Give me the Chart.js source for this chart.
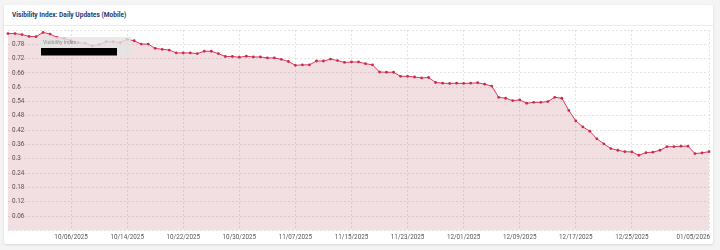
<!DOCTYPE html>
<html>
<head>
<meta charset="utf-8">
<script src="https://cdn.jsdelivr.net/npm/chart.js@4.4.1/dist/chart.umd.min.js"></script>
<style>
  html, body { margin: 0; padding: 0; background: #f4f4f4; }
  .card {
    position: absolute; left: 4px; top: 5px; width: 709px; height: 239px;
    background: #fff; border-radius: 2px; box-shadow: 0 1px 3px rgba(0,0,0,0.12);
  }
  .card h3 {
    margin: 0; height: 20px; padding-left: 8px;
    font: bold 6.6px/20px Roboto, sans-serif; color: #1f3a6b;
    border-bottom: 1px solid #ececec;
  }
  canvas { display: block; }
</style>
</head>
<body>
<div class="card">
  <h3>Visibility Index: Daily Updates (Mobile)</h3>
  <canvas id="myChart" width="709" height="218"></canvas>
</div>
<script>
// categories (one per day)
var dates = [
  '09/27/2025','09/28/2025','09/29/2025','09/30/2025',
  '10/01/2025','10/02/2025','10/03/2025','10/04/2025','10/05/2025','10/06/2025','10/07/2025','10/08/2025',
  '10/09/2025','10/10/2025','10/11/2025','10/12/2025','10/13/2025','10/14/2025','10/15/2025','10/16/2025',
  '10/17/2025','10/18/2025','10/19/2025','10/20/2025','10/21/2025','10/22/2025','10/23/2025','10/24/2025',
  '10/25/2025','10/26/2025','10/27/2025','10/28/2025','10/29/2025','10/30/2025','10/31/2025',
  '11/01/2025','11/02/2025','11/03/2025','11/04/2025','11/05/2025','11/06/2025','11/07/2025','11/08/2025',
  '11/09/2025','11/10/2025','11/11/2025','11/12/2025','11/13/2025','11/14/2025','11/15/2025','11/16/2025',
  '11/17/2025','11/18/2025','11/19/2025','11/20/2025','11/21/2025','11/22/2025','11/23/2025','11/24/2025',
  '11/25/2025','11/26/2025','11/27/2025','11/28/2025','11/29/2025','11/30/2025',
  '12/01/2025','12/02/2025','12/03/2025','12/04/2025','12/05/2025','12/06/2025','12/07/2025','12/08/2025',
  '12/09/2025','12/10/2025','12/11/2025','12/12/2025','12/13/2025','12/14/2025','12/15/2025','12/16/2025',
  '12/17/2025','12/18/2025','12/19/2025','12/20/2025','12/21/2025','12/22/2025','12/23/2025','12/24/2025',
  '12/25/2025','12/26/2025','12/27/2025','12/28/2025','12/29/2025','12/30/2025','12/31/2025',
  '01/01/2026','01/02/2026','01/03/2026','01/04/2026','01/05/2026'
];

// visibility index values
var visibility = [
  0.825, 0.825, 0.821, 0.813, 0.812, 0.830, 0.823, 0.809, 0.805, 0.795,
  0.787, 0.785, 0.773, 0.779, 0.791, 0.791, 0.787, 0.801, 0.795, 0.781,
  0.781, 0.763, 0.759, 0.756, 0.744, 0.744, 0.744, 0.741, 0.751, 0.751,
  0.741, 0.729, 0.729, 0.726, 0.730, 0.727, 0.727, 0.723, 0.723, 0.717,
  0.708, 0.692, 0.694, 0.694, 0.710, 0.710, 0.718, 0.712, 0.704, 0.706,
  0.706, 0.699, 0.694, 0.664, 0.663, 0.663, 0.646, 0.646, 0.643, 0.639,
  0.641, 0.620, 0.617, 0.616, 0.617, 0.616, 0.617, 0.619, 0.613, 0.605,
  0.558, 0.554, 0.544, 0.547, 0.533, 0.537, 0.537, 0.540, 0.558, 0.554,
  0.503, 0.459, 0.434, 0.416, 0.384, 0.363, 0.343, 0.336, 0.330, 0.329,
  0.315, 0.326, 0.328, 0.336, 0.351, 0.351, 0.353, 0.353, 0.322, 0.325,
  0.330
];

// ticks
var xTickLabels = ['10/06/2025','10/14/2025','10/22/2025','10/30/2025','11/07/2025','11/15/2025',
                   '11/23/2025','12/01/2025','12/09/2025','12/17/2025','12/25/2025','01/05/2026'];
var yTickValues = [0, 0.06, 0.12, 0.18, 0.24, 0.3, 0.36, 0.42, 0.48, 0.54, 0.6, 0.66, 0.72, 0.78, 0.84];
var seriesName = 'Visibility Index';

var lastLabel = xTickLabels[xTickLabels.length - 1];
var tickFont = { family: 'Roboto', size: 6.3 };
var gridColor = 'rgba(0,0,0,0.11)';

// legend box (name + hidden value bar) and the last x label, right aligned
var overlay = {
  id: 'overlay',
  afterDatasetsDraw: function (chart) {
    var ctx = chart.ctx, a = chart.chartArea;
    ctx.save();
    ctx.fillStyle = 'rgba(228,228,228,0.8)';
    ctx.fillRect(a.left + 31, a.top + 7, 92, 19);
    ctx.fillStyle = '#000';
    ctx.fillRect(a.left + 33, a.top + 18, 76, 7.5);
    ctx.fillStyle = '#8c8c8c';
    ctx.font = '5.2px Roboto';
    ctx.textBaseline = 'middle';
    ctx.fillText(seriesName, a.left + 35, a.top + 13);
    ctx.restore();
  },
  afterDraw: function (chart) {
    var ctx = chart.ctx, xs = chart.scales.x;
    ctx.save();
    ctx.fillStyle = '#555';
    ctx.font = tickFont.size + 'px Roboto';
    ctx.textAlign = 'right';
    ctx.textBaseline = 'middle';
    ctx.fillText(lastLabel, chart.chartArea.right + 1, xs.top + 3 + tickFont.size * 0.6);
    ctx.restore();
  }
};

var ctx = document.getElementById('myChart').getContext('2d');
var chart = new Chart(ctx, {
  type: 'line',
  data: {
    labels: dates,
    datasets: [{
      label: seriesName,
      data: visibility,
      borderColor: '#cf2a4e',
      borderWidth: 0.9,
      backgroundColor: 'rgba(170,40,60,0.15)',
      fill: 'origin',
      tension: 0,
      pointRadius: 1.4,
      pointBorderWidth: 0,
      pointBackgroundColor: '#cf2a4e'
    }]
  },
  options: {
    responsive: false,
    animation: false,
    layout: { padding: { top: 2, right: 1, bottom: 0, left: 0 } },
    plugins: { legend: { display: false }, tooltip: { enabled: false } },
    scales: {
      x: {
        afterFit: function (s) { s.paddingLeft = 0; s.paddingRight = 0; },
        grid: { color: gridColor, drawTicks: false },
        border: { display: false, dash: [2, 2] },
        ticks: {
          autoSkip: false, maxRotation: 0, padding: 3,
          font: tickFont, color: '#555',
          callback: function (v) {
            var lab = this.getLabelForValue(v);
            if (lab === lastLabel) return '';
            return xTickLabels.indexOf(lab) >= 0 ? lab : null;
          }
        }
      },
      y: {
        min: 0, max: 0.84,
        afterBuildTicks: function (s) { s.ticks = yTickValues.map(function (v) { return { value: v }; }); },
        afterFit: function (s) { s.width = 0; s.paddingTop = 0; s.paddingBottom = 0; },
        grid: { color: gridColor, drawTicks: false },
        border: { display: false, dash: [2, 2] },
        ticks: {
          mirror: true, padding: 4, font: tickFont, color: '#555',
          callback: function (v) {
            if (v === 0 || v === 0.84) return '';
            return String(+v.toFixed(2));
          }
        }
      }
    }
  },
  plugins: [overlay]
});
</script>
</body>
</html>
